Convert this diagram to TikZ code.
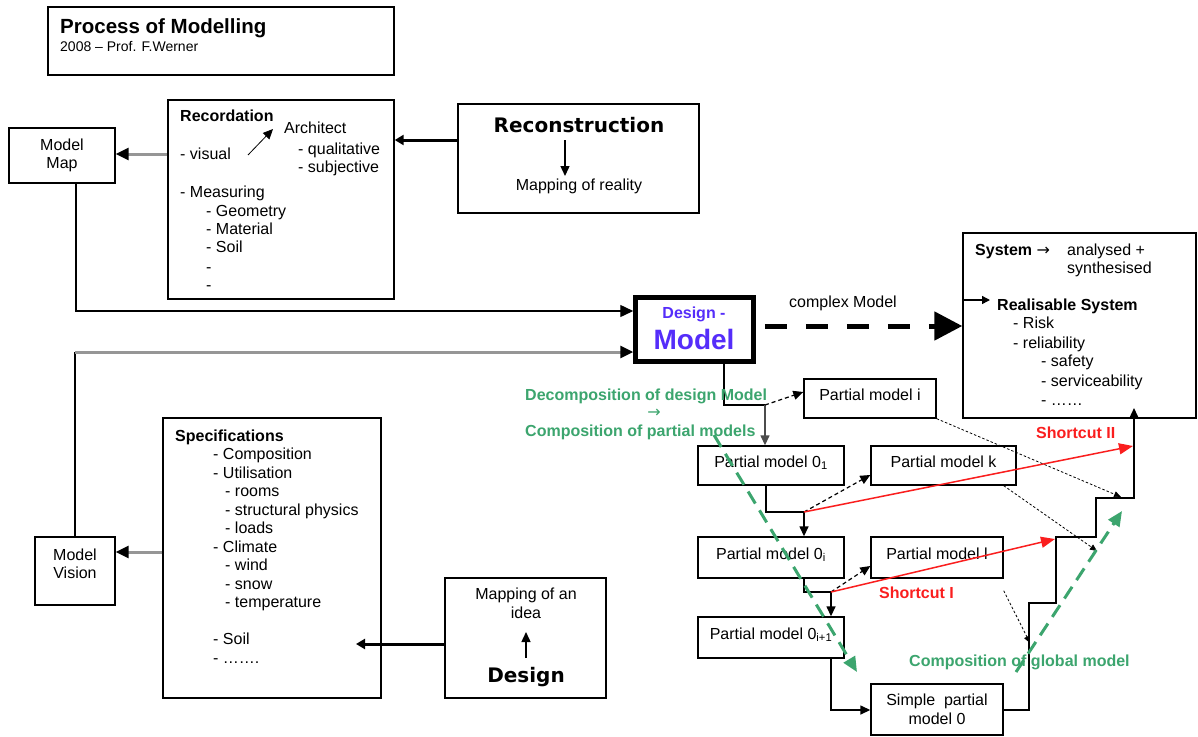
\documentclass[tikz,border=0pt]{standalone}
\usepackage{fontspec}
\setmainfont{Liberation Sans}
\newfontfamily\djv{DejaVu Sans}
\usetikzlibrary{arrows.meta}
\definecolor{dmblue}{RGB}{85,45,250}
\definecolor{pgreen}{RGB}{60,165,110}
\definecolor{sred}{RGB}{250,30,30}
\definecolor{lgray}{RGB}{150,150,150}
\begin{document}
\begin{tikzpicture}[x=1pt,y=-1pt,
  font=\fontsize{16}{18.5}\selectfont,
  box/.style={draw, line width=1.4pt, inner sep=0pt, align=center},
  pbox/.style={box, text height=11pt, text depth=8pt},
  lbl/.style={anchor=west, inner sep=0pt, text height=12pt, text depth=2pt},
  ctr/.style={inner sep=0pt, text height=12pt, text depth=2pt},
  bfl/.style={font=\fontsize{16}{18.5}\selectfont\bfseries},
  ln/.style={line width=1.4pt},
  arr/.style={line width=1.4pt, -{Triangle[length=10pt,width=9pt]}},
  thickarr/.style={line width=3pt, -{Triangle[length=9pt,width=10pt]}},
  grayarr/.style={line width=3pt, draw=lgray, -{Triangle[length=13pt,width=12pt,color=black]}},
  dsh/.style={line width=1.2pt, dash pattern=on 4pt off 3pt, -{Triangle[length=10pt,width=9pt]}},
  dots/.style={line width=0.8pt, dash pattern=on 2.5pt off 2pt, -{Triangle[length=7pt,width=6pt]}},
  redarr/.style={line width=1.5pt, draw=sred, -{Triangle[length=14pt,width=11pt]}},
  grnarr/.style={line width=3pt, draw=pgreen, dash pattern=on 14pt off 8pt, -{Triangle[length=15pt,width=13pt]}},
  grn/.style={lbl, text=pgreen, font=\fontsize{16}{18.5}\selectfont\bfseries},
  redlbl/.style={lbl, text=sred, font=\fontsize{16}{18.5}\selectfont\bfseries}
]
\path[fill=white, use as bounding box] (0,0) rectangle (1198,736);

% title
\node[box, minimum width=346pt, minimum height=68pt] (title) at (221,41) {};
\node[anchor=base west, inner sep=0pt, font=\fontsize{20.5}{24}\selectfont\bfseries] (ttl) at (60,33.5) {Process of Modelling};
\node[lbl, font=\fontsize{14}{16}\selectfont] (sub) at (60,46) {2008 – Prof. F.Werner};

% model map
\node[box, minimum width=106pt, minimum height=55pt] (map) at (62,155.5) {Model\\Map};

% recordation
\node[box, minimum width=226pt, minimum height=199pt] (rec) at (281,199.5) {};
\node[lbl, bfl] (rec1) at (180,116) {Recordation};
\node[lbl] (rec2) at (180,154) {- visual};
\node[lbl] (rec3) at (284,128) {Architect};
\node[lbl] (rec4) at (298,149) {- qualitative};
\node[lbl] (rec5) at (298,167) {- subjective};
\node[lbl] (rec6) at (180,192) {- Measuring};
\node[lbl] (rec7) at (206,211) {- Geometry};
\node[lbl] (rec8) at (206,229) {- Material};
\node[lbl] (rec9) at (206,247) {- Soil};
\node[lbl] (rec10) at (206,267) {-};
\node[lbl] (rec11) at (206,285) {-};
\coordinate (va) at (248,155);
\coordinate (vb) at (273,129);
\draw[line width=0.8pt, -{Triangle[length=10pt,width=9pt]}] (va) -- (vb);

% reconstruction
\node[box, minimum width=241pt, minimum height=109pt] (recon) at (578.5,158.5) {};
\node[anchor=base, inner sep=0pt, font=\djv\bfseries\fontsize{20}{24}\selectfont] (recT) at (579,132.5) {Reconstruction};
\node[ctr] (mor) at (579,185) {Mapping of reality};
\coordinate (ra) at (565,140);
\coordinate (rb) at (565,176);
\draw[arr] (ra) -- (rb);

\draw[thickarr] (recon.west |- 0,140) -- (rec.east |- 0,140);
\draw[grayarr] (rec.west |- 0,154) -- (map.east |- 0,154);

% design model
\node[draw, line width=4.5pt, minimum width=118pt, minimum height=64pt, inner sep=0pt] (dm) at (694.5,329.5) {};
\node[ctr, text=dmblue, font=\fontsize{16}{18}\selectfont\bfseries] (dmt1) at (694,313) {Design -};
\node[anchor=base, inner sep=0pt, text=dmblue, font=\fontsize{28}{32}\selectfont\bfseries] (dmt2) at (694,349.5) {Model};

% model vision
\node[box, minimum width=80pt, minimum height=68pt] (mv) at (75,571) {};
\node[ctr] (mv1) at (75,555) {Model};
\node[ctr] (mv2) at (75,573) {Vision};

\draw[ln, -{Triangle[length=13pt,width=12pt]}] (map.south -| 76,0) |- (dm.west |- 0,311);
\coordinate (mvc) at (mv.north |- 0,352);
\draw[ln] (mv.north) -- (mvc);
\draw[grayarr] (mvc) -- (dm.west |- mvc);

% system
\node[box, minimum width=233pt, minimum height=185pt] (sys) at (1079.5,325.5) {};
\node[lbl, bfl] (sy1) at (975,250) {System {\djv\mdseries\fontsize{16}{18}\selectfont →}};
\node[lbl] (sy2) at (1067,250) {analysed +};
\node[lbl] (sy3) at (1067,268) {synthesised};
\coordinate (sysin) at (990,300);
\draw[ln, -{Triangle[length=8pt,width=8pt]}] (sys.west |- sysin) -- (sysin);
\node[lbl, bfl] (sy4) at (997,305) {Realisable System};
\node[lbl] (sy5) at (1013,323) {- Risk};
\node[lbl] (sy6) at (1013,343) {- reliability};
\node[lbl] (sy7) at (1041,361) {- safety};
\node[lbl] (sy8) at (1041,381) {- serviceability};
\node[lbl] (sy9) at (1041,400) {- ……};

\node[ctr] (cm) at (843,302) {complex Model};
\draw[line width=5pt, dash pattern=on 22pt off 19pt, shorten <=9pt, -{Triangle[length=28pt,width=28pt]}] (dm.east |- 0,326) -- (sys.west |- 0,326);

% specifications
\node[box, minimum width=218pt, minimum height=280pt] (spec) at (272,558) {};
\node[lbl, bfl] (spec0) at (175,436) {Specifications};
\foreach \dx/\t [count=\i] in {38/- Composition, 38/- Utilisation, 50/- rooms, 50/- structural physics, 50/- loads, 38/- Climate, 50/- wind, 50/- snow, 50/- temperature, 38/{}, 38/- Soil, 38/- …….}
  \node[lbl] (spec\i) at (175+\dx, 436+18.5*\i) {\t};
\draw[grayarr] (spec.west |- 0,552) -- (mv.east |- 0,552);

% design
\node[box, minimum width=161pt, minimum height=120pt] (des) at (525.5,638) {};
\node[ctr] (de1) at (526,594) {Mapping of an};
\node[ctr] (de2) at (526,613) {idea};
\node[anchor=base, inner sep=0pt, font=\djv\bfseries\fontsize{20}{24}\selectfont] (de3) at (526,682.5) {Design};
\coordinate (da) at (526,658);
\coordinate (db) at (526,632);
\draw[arr] (da) -- (db);
\coordinate (specin) at (356,644);
\draw[thickarr] (des.west |- specin) -- (specin);

% partial models
\node[pbox, minimum width=132pt, minimum height=39pt] (pmi) at (870,398.5) {Partial model i};
\node[pbox, minimum width=146pt, minimum height=39pt] (p01) at (771,465.5) {Partial model 0\textsubscript{1}};
\node[pbox, minimum width=145pt, minimum height=39pt] (pmk) at (943.5,465.5) {Partial model k};
\node[pbox, minimum width=146pt, minimum height=41pt] (p0i) at (771,557.5) {Partial model 0\textsubscript{i}};
\node[pbox, minimum width=132pt, minimum height=41pt] (pml) at (937,557.5) {Partial model l};
\node[pbox, minimum width=146pt, minimum height=41pt] (p0ii) at (771,637.5) {Partial model 0\textsubscript{i+1}};
\node[box, minimum width=132pt, minimum height=51pt] (simple) at (937,709.5) {Simple\ \ partial\\model 0};

\coordinate (j0) at (765,405);
\coordinate (j1) at (804,512);
\coordinate (j2) at (831,592);
\draw[ln] (dm.south -| 724,0) |- (j0);
\draw[arr, draw=black!70] (j0) -- (p01.north -| j0);
\draw[ln] (p01.south -| 766,0) |- (j1);
\draw[arr] (j1) -- (p0i.north -| j1);
\draw[ln] (p0i.south -| j1) |- (j2);
\draw[arr] (j2) -- (p0ii.north -| j2);
\draw[arr] (p0ii.south -| j2) |- (simple.west |- 0,710);

\draw[dsh] (j0) -- (pmi.west |- 0,392);
\draw[dsh] (j1) -- (pmk.west |- 0,475);
\draw[dsh] (j2) -- (pml.west |- 0,566);

\coordinate (stairtop) at (1134,408);
\draw[arr] (simple.east |- 0,710) -- (1029,710) -- (1029,603) -- (1056,603) -- (1056,537) -- (1096,537) -- (1096,498) -- (1134,498) -- (stairtop);

\coordinate (d1) at (1121,497);
\coordinate (d2) at (1097,551);
\coordinate (d3) at (1030,643);
\draw[dots] (pmi.south east) -- (d1);
\draw[dots] ([xshift=-13pt]pmk.south east) -- (d2);
\draw[dots] ([yshift=-12pt]pml.south east) -- (d3);

\coordinate (s2) at (1133,446);
\coordinate (s1) at (1055,539);
\draw[redarr] (j1) -- (s2);
\draw[redarr] (j2) -- (s1);
\node[redlbl] (sc2) at (1036,433) {Shortcut II};
\node[redlbl] (sc1) at (879,593) {Shortcut I};

\coordinate (g1a) at (714,435);
\coordinate (g1b) at (857,672);
\coordinate (g2a) at (1016,672);
\coordinate (g2b) at (1122,511);
\draw[grnarr] (g1a) -- (g1b);
\draw[grnarr] (g2a) -- (g2b);

\node[grn] (gt1) at (525,395) {Decomposition of design Model};
\node[ctr, text=pgreen, font=\djv\fontsize{16}{18}\selectfont] (gt2) at (654,412) {→};
\node[grn] (gt3) at (525,431) {Composition of partial models};
\node[grn] (gt4) at (909,661) {Composition of global model};
\end{tikzpicture}
\end{document}
